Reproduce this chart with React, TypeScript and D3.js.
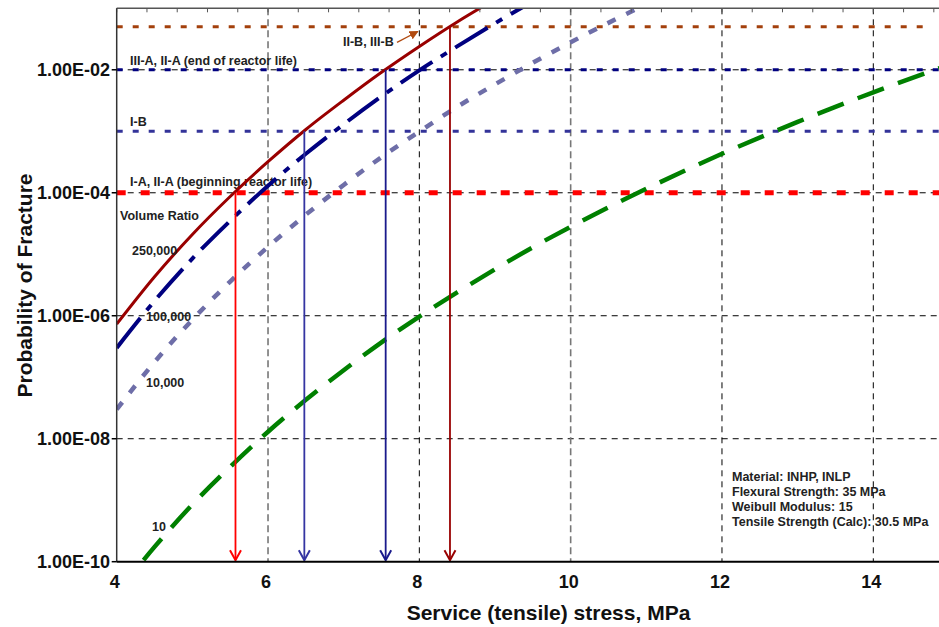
import React from 'react';
import * as d3 from 'd3';

// ---- data ----
const stress = [4, 4.5, 5, 5.5, 6, 6.5, 7, 7.5, 8, 8.5, 9, 9.5, 10, 11, 12, 13, 14, 15];
const pf250k = [7.3e-7, 4.3e-6, 2.1e-5, 8.7e-5, 3.2e-4, 1.07e-3, 3.2e-3, 9.1e-3, 2.4e-2, 6.0e-2, 0.14, null, null, null, null, null, null, null];
const pf100k = [3.0e-7, 1.74e-6, 8.5e-6, 3.5e-5, 1.3e-4, 4.3e-4, 1.3e-3, 3.7e-3, 9.8e-3, 2.4e-2, 5.7e-2, 0.13, null, null, null, null, null, null];
const pf10k = [3.0e-8, 1.77e-7, 8.6e-7, 3.6e-6, 1.32e-5, 4.4e-5, 1.34e-4, 3.8e-4, 9.9e-4, 2.5e-3, 5.8e-3, 1.3e-2, 2.8e-2, 0.117, null, null, null, null];
const pf10 = [3.0e-11, 1.74e-10, 8.5e-10, 3.5e-9, 1.3e-8, 4.3e-8, 1.3e-7, 3.7e-7, 9.7e-7, 2.4e-6, 5.7e-6, 1.3e-5, 2.8e-5, 1.16e-4, 4.3e-4, 1.42e-3, 4.3e-3, 1.2e-2];

const xTicks = [4, 6, 8, 10, 12, 14];
const xGrid = [6, 8, 10, 12, 14];
const yTicks = [1e-10, 1e-8, 1e-6, 1e-4, 1e-2];
const yTickLabels = ['1.00E-10', '1.00E-08', '1.00E-06', '1.00E-04', '1.00E-02'];

const refLevels = [5e-2, 1e-2, 1e-3, 1e-4];
const refLabels = ['', 'III-A, II-A (end of reactor life)', 'I-B', 'I-A, II-A (beginning reactor life)'];

const arrowStress = [5.57, 6.48, 7.555, 8.405];
const arrowLevels = [1e-4, 1e-3, 1e-2, 5e-2];

const volumeLabels = ['250,000', '100,000', '10,000', '10'];
const infoLines = ['Material: INHP, INLP', 'Flexural Strength: 35 MPa', 'Weibull Modulus: 15', 'Tensile Strength (Calc): 30.5 MPa'];

// annotation arrow for II-B, III-B (data coords)
const noteFrom = [7.705, 0.0279];
const noteTo = [7.98, 0.042];

// ---- layout ----
const W = 939, H = 627;
const L = 116.7, B = 561.7, T = 8.3, R = 939;
const FONT = '"Liberation Sans", Arial, Helvetica, sans-serif';

export default function App() {
  const x = d3.scaleLinear().domain([4, 15]).range([L, L + 11 * 75.66]);
  const y = d3.scaleLog().domain([1e-10, 0.1]).range([B, T]);

  const mk = (vals: (number | null)[]) =>
    d3.line<number>()
      .defined((_, i) => vals[i] != null)
      .x((s) => x(s))
      .y((_, i) => y(vals[i] as number))
      .curve(d3.curveMonotoneX)(stress) as string;

  const curves = [
    { d: mk(pf10), color: '#008000', w: 4.5, dash: '28,15' },
    { d: mk(pf10k), color: '#6e6ea8', w: 4.5, dash: '9,12' },
    { d: mk(pf100k), color: '#000080', w: 4, dash: '38,10,7,10' },
    { d: mk(pf250k), color: '#990000', w: 3, dash: undefined },
  ];

  const refStyles = [
    { color: '#a3400c', w: 3, dash: '6,10' },
    { color: '#000080', w: 3, dash: '6,10' },
    { color: '#333399', w: 3, dash: '6,10' },
    { color: '#ff0000', w: 5, dash: '9,15' },
  ];
  const arrowColors = ['#ff0000', '#3535a2', '#1a1a8c', '#990000'];

  const minorTicks = d3.range(0, 28).map((i) => 4 + i * 0.4).filter((v) => x(v) <= R);

  return (
    <svg width={W} height={H} style={{ position: 'absolute', left: 0, top: 0, background: '#fff' }} fontFamily={FONT}>
      <defs>
        <clipPath id="plot">
          <rect x={L} y={T} width={R - L} height={B - T} />
        </clipPath>
        <marker id="noteHead" viewBox="0 0 10 10" refX="9" refY="5" markerWidth="7" markerHeight="7" orient="auto">
          <path d="M0,0 L10,5 L0,10 z" fill="#b04a10" />
        </marker>
      </defs>
      <rect x={0} y={0} width={W} height={H} fill="#fff" />

      {/* horizontal grid */}
      {yTicks.slice(1).map((v) => (
        <line key={'hg' + v} x1={L} x2={R} y1={y(v)} y2={y(v)} stroke="#000" strokeWidth={1} strokeDasharray="6,5" />
      ))}
      {/* vertical grid */}
      {xGrid.map((v) => (
        <line key={'vg' + v} x1={x(v)} x2={x(v)} y1={T} y2={B}
          stroke={v === 6 || v === 10 ? '#777' : '#000'}
          strokeWidth={v === 6 || v === 10 ? 1.6 : 1}
          strokeDasharray={v === 6 || v === 10 ? '7,4' : '6,5'} />
      ))}

      {/* reference levels */}
      {refLevels.map((v, i) => (
        <line key={'rl' + i} x1={L} x2={i === 0 ? 930 : R} y1={y(v)} y2={y(v)} stroke={refStyles[i].color}
          strokeWidth={refStyles[i].w} strokeDasharray={refStyles[i].dash} />
      ))}

      {/* reference labels */}
      {refLabels.map((t, i) => t ? (
        <text key={'rt' + i} x={130} y={y(refLevels[i]) - (i === 3 ? 7 : 5)} fontSize={12.5} fontWeight="bold" fill="#222">{t}</text>
      ) : null)}

      {/* curves */}
      <g clipPath="url(#plot)">
        {curves.map((c, i) => (
          <path key={'c' + i} d={c.d} fill="none" stroke={c.color} strokeWidth={c.w} strokeDasharray={c.dash} />
        ))}
      </g>

      {/* drop arrows */}
      {arrowStress.map((s, i) => {
        const ax = x(s);
        const tip = B - 1.5;
        return (
          <g key={'ar' + i} stroke={arrowColors[i]} strokeWidth={1.8} fill="none">
            <line x1={ax} x2={ax} y1={y(arrowLevels[i])} y2={tip} />
            <path d={`M${ax - 5.5},${tip - 10} L${ax},${tip} L${ax + 5.5},${tip - 10}`} strokeWidth={2} />
          </g>
        );
      })}

      {/* axes */}
      <line x1={L} x2={R} y1={T} y2={T} stroke="#555" strokeWidth={1.5} />
      {minorTicks.map((v) => (
        <line key={'mt' + v} x1={x(v)} x2={x(v)} y1={T} y2={T + 4} stroke="#555" strokeWidth={1} />
      ))}
      <line x1={L} x2={L} y1={T} y2={B} stroke="#333" strokeWidth={1.5} />
      <line x1={L} x2={R} y1={B} y2={B} stroke="#000" strokeWidth={2} />
      {yTicks.map((v) => (
        <line key={'yt' + v} x1={L - 5} x2={L} y1={y(v)} y2={y(v)} stroke="#000" strokeWidth={1.5} />
      ))}

      {/* tick labels */}
      {yTicks.map((v, i) => (
        <text key={'yl' + v} x={110} y={y(v)} dy="0.35em" textAnchor="end" fontSize={18} fontWeight="bold" fill="#111">{yTickLabels[i]}</text>
      ))}
      {xTicks.map((v) => (
        <text key={'xl' + v} x={x(v) - 2} y={588} textAnchor="middle" fontSize={18} fontWeight="bold" fill="#111">{String(v)}</text>
      ))}

      {/* axis titles */}
      <text x={548.5} y={620} textAnchor="middle" fontSize={21} fontWeight="bold" fill="#111">Service (tensile) stress, MPa</text>
      <text transform={`translate(31.7,285.5) rotate(-90)`} textAnchor="middle" fontSize={21} fontWeight="bold" fill="#111">Probability of Fracture</text>

      {/* volume ratio labels */}
      <text x={120} y={220} fontSize={12.5} fontWeight="bold" fill="#222">Volume Ratio</text>
      <text x={132} y={255} fontSize={12.5} fontWeight="bold" fill="#222">{volumeLabels[0]}</text>
      <text x={146} y={321} fontSize={12.5} fontWeight="bold" fill="#222">{volumeLabels[1]}</text>
      <text x={146} y={387} fontSize={12.5} fontWeight="bold" fill="#222">{volumeLabels[2]}</text>
      <text x={152} y={531} fontSize={12.5} fontWeight="bold" fill="#222">{volumeLabels[3]}</text>

      {/* II-B, III-B note */}
      <text x={343} y={46} fontSize={12.5} fontWeight="bold" fill="#222">II-B, III-B</text>
      <line x1={x(noteFrom[0])} y1={y(noteFrom[1])} x2={x(noteTo[0])} y2={y(noteTo[1])} stroke="#b04a10" strokeWidth={1.3} markerEnd="url(#noteHead)" />

      {/* info block */}
      {infoLines.map((t, i) => (
        <text key={'in' + i} x={732} y={481 + i * 15} fontSize={12.5} fontWeight="bold" fill="#222">{t}</text>
      ))}
    </svg>
  );
}
